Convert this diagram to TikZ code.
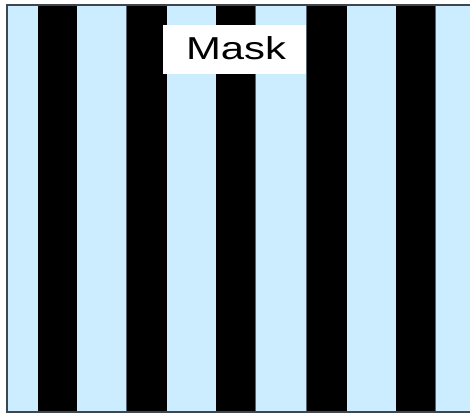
\documentclass[tikz,border=0pt]{standalone}
\usepackage{fontspec}
\setmainfont{Liberation Sans}
\definecolor{maskblue}{RGB}{204,236,255}
\definecolor{edgegray}{RGB}{90,100,110}
\tikzset{
  lightstripe/.style={fill=maskblue, draw=edgegray, line width=0.5pt},
  darkstripe/.style={fill=black},
  labelbox/.style={fill=white, inner sep=0pt, minimum width=142.7pt, minimum height=49.3pt}
}
\begin{document}
\begin{tikzpicture}[x=1pt,y=-1pt]
\useasboundingbox (0,0) rectangle (470,414);
\begin{scope}
\clip (0,0) rectangle (470,414);
\foreach \a/\b in {7.3/38.3, 76.7/126.7, 166.7/216, 255/306.7, 346.7/396, 435/480}
  \draw[lightstripe] (\a,5) rectangle (\b,412);
\foreach \a/\b in {38.3/76.7, 126.7/166.7, 216/255, 306.7/346.7, 396/435}
  \fill[darkstripe] (\a,5) rectangle (\b,412);
\draw[edgegray!70!black, line width=1.2pt] (480,5) -- (7,5) -- (7,412) -- (480,412);
\end{scope}
\node[labelbox] (mask) at (234.65,49.65) {};
\node[anchor=base, inner sep=0pt, xscale=1.32, font=\fontsize{31.7}{34}\selectfont] (masktext) at (236,59.3) {Mask};
\end{tikzpicture}
\end{document}
